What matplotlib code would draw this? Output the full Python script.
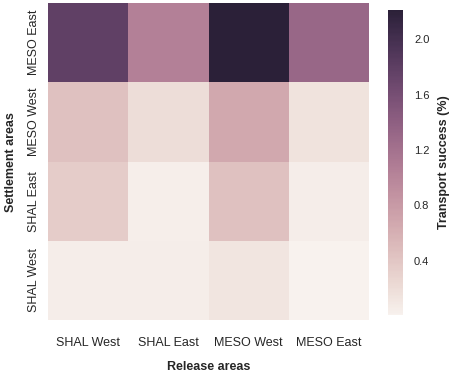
import matplotlib
matplotlib.use('Agg')
import matplotlib.pyplot as plt
import seaborn as sns
import numpy as np

# release areas (columns) and settlement areas (rows, top to bottom)
release = ['SHAL West', 'SHAL East', 'MESO West', 'MESO East']
settlement = ['MESO East', 'MESO West', 'SHAL East', 'SHAL West']

# transport success (%)
row_meso_east = [1.78, 1.05, 2.21, 1.32]
row_meso_west = [0.45, 0.20, 0.68, 0.15]
row_shal_east = [0.35, 0.04, 0.45, 0.05]
row_shal_west = [0.06, 0.05, 0.13, 0.01]

vals = np.array([row_meso_east, row_meso_west, row_shal_east, row_shal_west])

sns.set_style('white')
plt.rcParams['font.family'] = ['Liberation Sans', 'DejaVu Sans']

fig = plt.figure(figsize=(4.59, 3.74), dpi=100)
ax = fig.add_axes([0.105, 0.144, 0.699, 0.848])
cax = fig.add_axes([0.845, 0.158, 0.033, 0.815])

cmap = sns.cubehelix_palette(light=0.95, hue=0.6, as_cmap=True)
sns.heatmap(vals, ax=ax, cbar_ax=cax, cmap=cmap,
            xticklabels=release, yticklabels=settlement)

ax.tick_params(axis='x', labelsize=9, pad=12, length=0)
ax.tick_params(axis='y', labelsize=9, pad=6, length=0)
plt.setp(ax.get_yticklabels(), rotation=90, va='center')
ax.set_xlabel('Release areas', fontsize=9, fontweight='bold', labelpad=9)
ax.set_ylabel('Settlement areas', fontsize=9, fontweight='bold', labelpad=8)

cax.set_yticks([0.4, 0.8, 1.2, 1.6, 2.0])
cax.tick_params(labelsize=8, length=0, pad=8)
cax.set_ylabel('Transport success (%)', fontsize=9, fontweight='bold', labelpad=6)

fig.savefig('out.png', dpi=100)
